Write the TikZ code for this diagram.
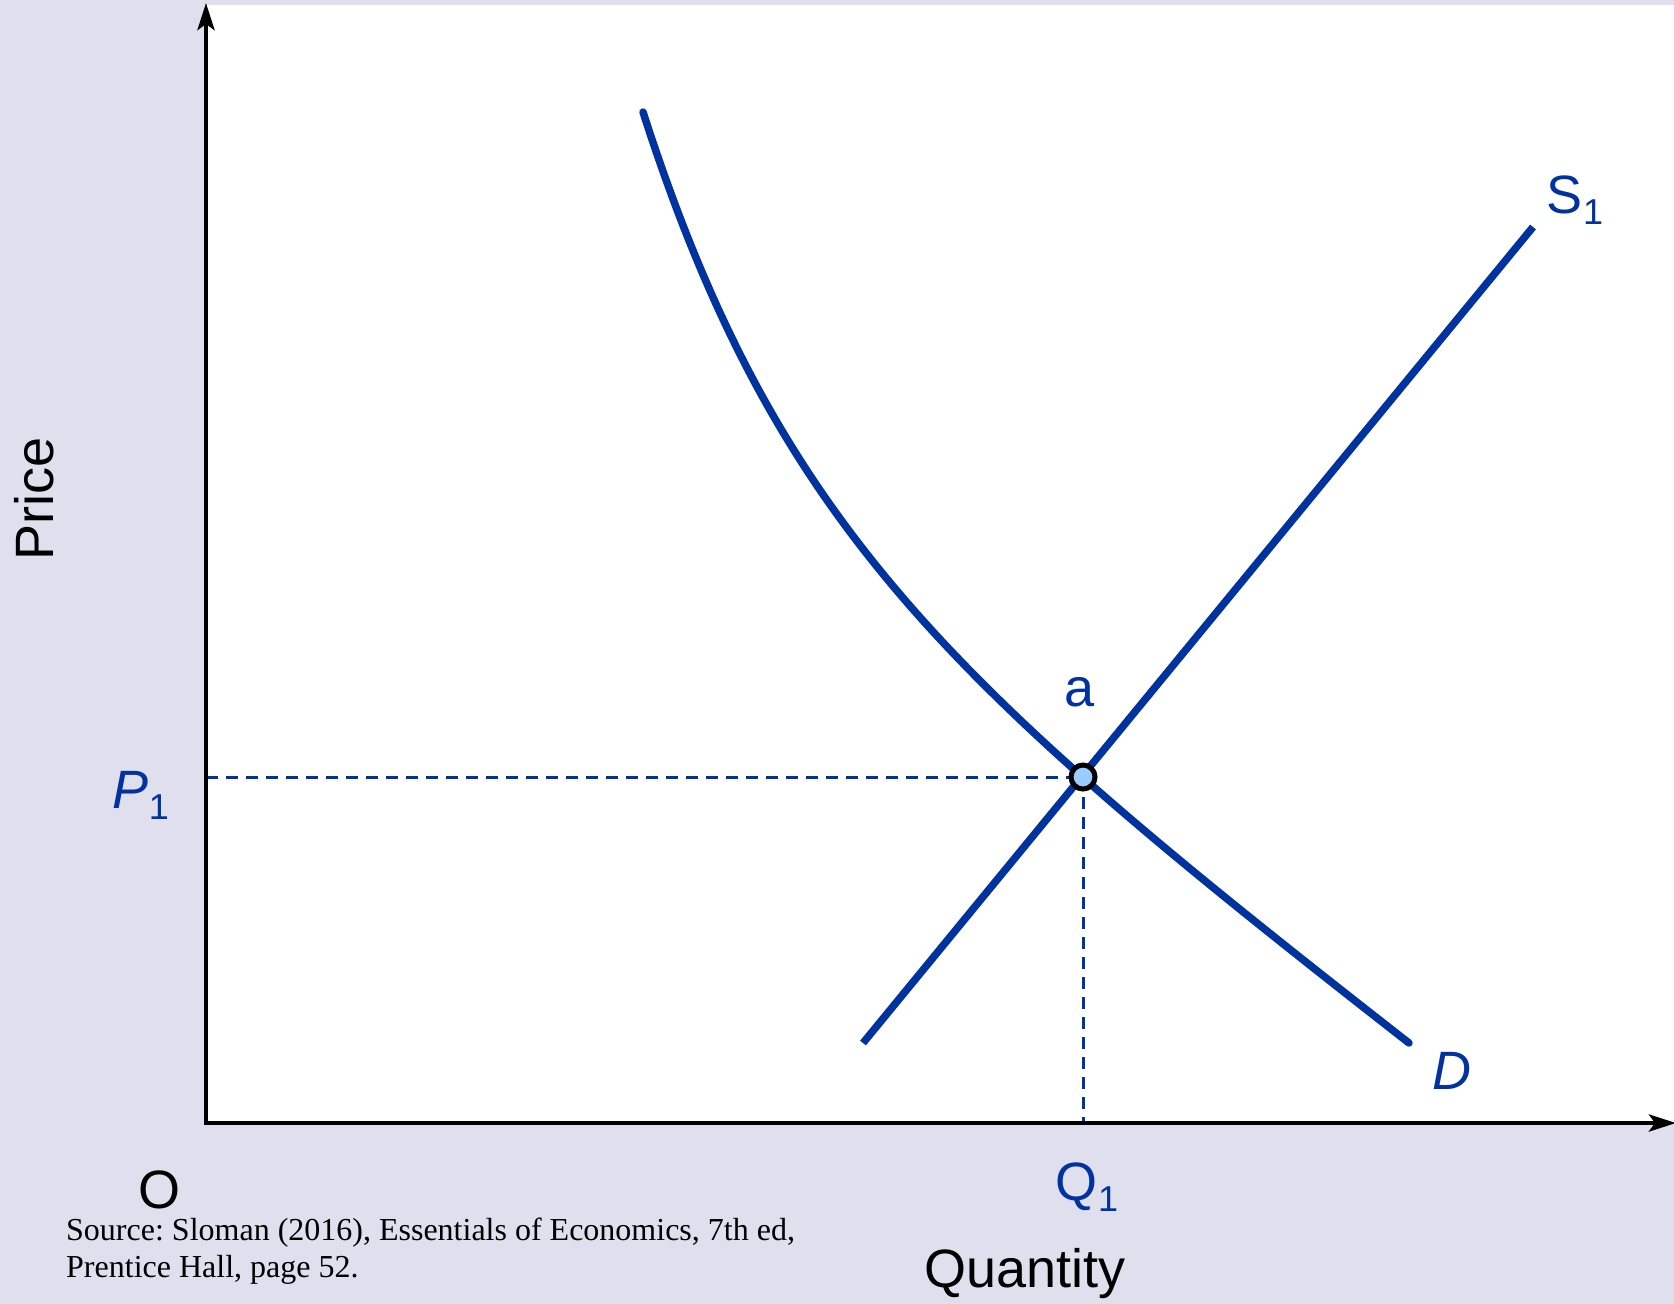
\documentclass[tikz,border=0pt]{standalone}
\usepackage{fontspec}
\setmainfont{Liberation Sans}
\newfontfamily\srcfont{Liberation Serif}
\usetikzlibrary{arrows.meta}
\definecolor{bgl}{RGB}{223,223,237}
\definecolor{cblue}{RGB}{0,51,160}
\definecolor{ptfill}{RGB}{153,204,255}
\frenchspacing
\begin{document}
\begin{tikzpicture}[x=1pt,y=-1pt,
  axisline/.style={line width=4.5pt,-{Stealth[length=27pt,width=17pt,inset=6pt]}},
  curveline/.style={cblue,line width=7.5pt},
  guide/.style={cblue,line width=3pt,dash pattern=on 12pt off 8pt},
  lab/.style={font=\fontsize{54}{60}\selectfont,inner sep=0pt},
  bluelab/.style={lab,text=cblue},
  src/.style={font=\srcfont\fontsize{32}{38}\selectfont,inner sep=0pt,anchor=base west}]
\newcommand{\subone}{\fontsize{36}{40}\selectfont\raisebox{-11pt}{1}}
\useasboundingbox (0,0) rectangle (1674,1304);
\fill[bgl] (0,0) rectangle (1674,1304);
\fill[white] (206,5) rectangle (1674,1123);
% coordinates
\coordinate (O) at (206,1123);
\coordinate (ytop) at (206,3);
\coordinate (xend) at (1676,1123);
\coordinate (E) at (1083,777);
\coordinate (Pax) at (206,777);
\coordinate (Qax) at (1083,1123);
\coordinate (s0) at (863,1043);
\coordinate (s1) at (1533,227);
\coordinate (d0) at (643,112);
\coordinate (d1) at (1409,1043);
% guides
\draw[guide] (Pax) -- (E);
\draw[guide] (E) -- (Qax);
% axes
\draw[axisline] ([yshift=2.25pt]O) -- (ytop);
\draw[axisline] ([xshift=-2.25pt]O) -- (xend);
% demand
\draw[curveline,line cap=round] (d0) .. controls (778,532) and (957,690) .. (d1);
% supply
\draw[curveline] (s0) -- (s1);
% point
\draw[line width=5pt,fill=ptfill] (E) circle (12pt);
% labels
\node[lab,rotate=90] (price) at (34,499) {Price};
\node[lab] (qty) at (1025,1274) {Quantity};
\node[lab] (olab) at (160,1190) {O};
\node[bluelab] (p1) at (141,795) {\textit{P}\subone};
\node[bluelab] (q1) at (1087,1187) {Q\subone};
\node[bluelab] (s1lab) at (1575,200) {S\subone};
\node[bluelab] (dlab) at (1452,1071) {\textit{D}};
\node[bluelab] (alab) at (1080,692) {a};
\node[src] (src1) at (66,1240) {Source: Sloman (2016), Essentials of Economics, 7th ed,};
\node[src] (src2) at (66,1277) {Prentice Hall, page 52.};
\end{tikzpicture}
\end{document}
